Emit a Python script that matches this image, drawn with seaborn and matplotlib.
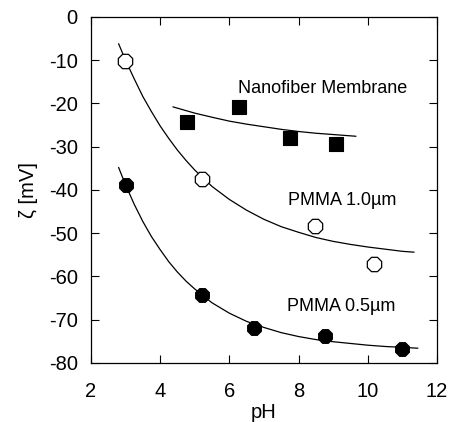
import matplotlib
matplotlib.use("Agg")
import matplotlib.pyplot as plt
import seaborn as sns

# Measured points
ph_nano = [4.77, 6.28, 7.75, 9.08]
zeta_nano = [-24.3, -20.8, -28.0, -29.4]

ph_p10 = [2.98, 5.20, 8.47, 10.18]
zeta_p10 = [-10.2, -37.4, -48.4, -57.1]

ph_p05 = [3.00, 5.21, 6.71, 8.76, 10.98]
zeta_p05 = [-38.8, -64.2, -72.0, -73.7, -76.7]

# Fitted curves
fit_ph_nano = [4.37, 5.0, 5.5, 6.0, 6.5, 7.0, 7.5, 8.0, 8.5, 9.0, 9.66]
fit_zeta_nano = [-20.8, -22.25, -23.2, -24.1, -24.8, -25.4, -26.0, -26.5, -26.9, -27.2, -27.6]

fit_ph_p10 = [2.8, 3.0, 3.25, 3.5, 3.75, 4.0, 4.25, 4.5, 4.75, 5.0, 5.5, 6.0, 6.5, 7.0, 7.5, 8.0,
              8.5, 9.0, 9.5, 10.0, 10.5, 11.0, 11.34]
fit_zeta_p10 = [-6.2, -10.0, -14.3, -18.4, -21.9, -25.2, -28.1, -30.8, -33.2, -35.4, -39.2,
                -42.2, -44.7, -46.8, -48.5, -49.8, -51.0, -51.9, -52.6, -53.2, -53.7, -54.2, -54.4]

fit_ph_p05 = [2.8, 3.0, 3.25, 3.5, 3.75, 4.0, 4.25, 4.5, 4.75, 5.0, 5.5, 6.0, 6.5, 7.0, 7.5, 8.0,
              8.5, 9.0, 9.5, 10.0, 10.5, 11.0, 11.45]
fit_zeta_p05 = [-34.8, -38.8, -43.3, -47.3, -50.8, -53.8, -56.6, -59.0, -61.1, -62.9, -66.1,
                -68.5, -70.4, -71.8, -73.0, -73.9, -74.6, -75.1, -75.5, -75.9, -76.2, -76.4, -76.6]

x_ticks = [2, 4, 6, 8, 10, 12]
y_ticks = [0, -10, -20, -30, -40, -50, -60, -70, -80]

labels = ["Nanofiber Membrane", "PMMA 1.0\u00b5m", "PMMA 0.5\u00b5m"]
label_pos = [(6.25, -16.5), (7.69, -42.5), (7.66, -67.0)]

sns.set_theme(style="ticks")
plt.rcParams["font.family"] = ["Liberation Sans", "DejaVu Sans"]
plt.rcParams["axes.unicode_minus"] = False

fig = plt.figure(figsize=(4.5, 4.22), dpi=100)
ax = fig.add_axes([0.202, 0.14, 0.769, 0.82])

for fx, fy in [(fit_ph_nano, fit_zeta_nano), (fit_ph_p10, fit_zeta_p10), (fit_ph_p05, fit_zeta_p05)]:
    sns.lineplot(x=fx, y=fy, ax=ax, color="black", linewidth=0.9, sort=False, estimator=None)

sns.scatterplot(x=ph_nano, y=zeta_nano, ax=ax, marker="s", s=90, color="black",
                edgecolor="black", linewidth=0.8, zorder=5)
sns.scatterplot(x=ph_p10, y=zeta_p10, ax=ax, marker="8", s=125, color="white",
                edgecolor="black", linewidth=0.9, zorder=5)
sns.scatterplot(x=ph_p05, y=zeta_p05, ax=ax, marker="8", s=115, color="black",
                edgecolor="black", linewidth=0.8, zorder=5)

for t, (px, py) in zip(labels, label_pos):
    ax.text(px, py, t, fontsize=13, ha="left", va="center", color="black")

ax.set_xlim(2, 12)
ax.set_ylim(-80, 0)
ax.set_xticks(x_ticks)
ax.set_yticks(y_ticks)
ax.tick_params(direction="in", length=5.5, width=0.8, labelsize=14.5, top=True, right=True,
               color="black", labelcolor="black")
ax.tick_params(axis="x", pad=14)
ax.tick_params(axis="y", pad=9.5)
for sp in ax.spines.values():
    sp.set_visible(True)
    sp.set_linewidth(0.9)
    sp.set_color("black")
ax.set_xlabel("pH", fontsize=14.5, labelpad=1, color="black")
ax.set_ylabel("\u03b6 [mV]", fontsize=14.5, labelpad=8, color="black")

fig.savefig("out.png", dpi=100)
